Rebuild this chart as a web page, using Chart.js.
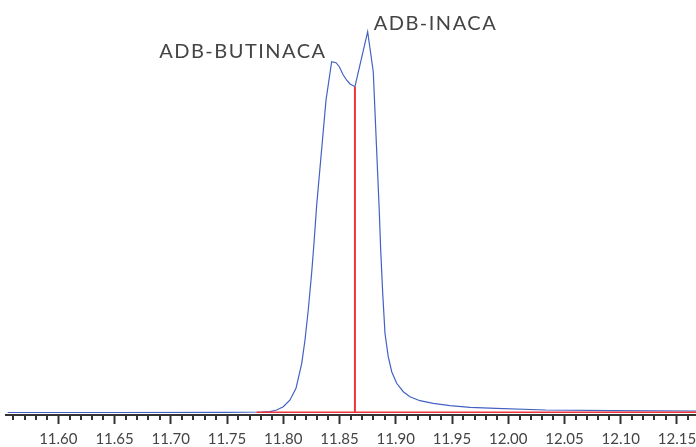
<!DOCTYPE html>
<html>
<head>
<meta charset="utf-8">
<script src="https://cdn.jsdelivr.net/npm/chart.js@4"></script>
<style>
  html, body { margin: 0; padding: 0; background: #fff; }
  #wrap { width: 696px; height: 447px; position: relative; }
</style>
</head>
<body>
<div id="wrap"><canvas id="chrom"></canvas></div>
<script>
// retention time (min) and abundance (arbitrary units)
const TIMES = [
  11.555, 11.65, 11.75, 11.7811, 11.7882, 11.7941, 11.8000, 11.8060, 11.8113,
  11.8164, 11.8193, 11.8222, 11.8252, 11.8273, 11.8297, 11.8380, 11.8430,
  11.8469, 11.8498, 11.8533, 11.8566, 11.8593, 11.8637, 11.8750, 11.8800,
  11.8853, 11.8866, 11.8884, 11.8904, 11.8933, 11.8964, 11.9008, 11.9067,
  11.9126, 11.9215, 11.9333, 11.9482, 11.9660, 11.9891, 12.0335, 12.0928,
  12.1669,
];
const ABUNDANCE = [
  0, 0, 0.2, 0.5, 0.8, 2.5, 5.8, 12.5, 24.2,
  49.2, 72.5, 102.5, 139.2, 169.2, 207.5, 312.5, 350.8,
  349.8, 345.8, 337.5, 332, 328.5, 325.8, 380.8, 340.8,
  202.5, 162.5, 119.2, 79.2, 55.8, 40.8, 29.2, 20.8,
  15.8, 11.8, 9.2, 6.8, 5.2, 4.2, 2.5, 1.8,
  1.5,
];

// integration baseline and split line
const BASELINE_TIMES = [11.7763, 12.1669];
const BASELINE_VALUES = [0.2, 0.2];
const SPLIT_TIME = 11.8637;
const SPLIT_VALUES = [0, 325.8];

const PEAK_NAMES = ["ADB-BUTINACA", "ADB-INACA"];
const PEAK_TIMES = [11.8430, 11.8750];
const PEAK_VALUES = [350.8, 380.8];

const TICK_LABELS = ["11.60", "11.65", "11.70", "11.75", "11.80", "11.85",
  "11.90", "11.95", "12.00", "12.05", "12.10", "12.15"];
const X_MIN = 11.5535;
const X_MAX = 12.1669;

const BLUE = "#4262c2";
const RED = "#f0343c";
const TEXT = "#444";

const toPoints = (xs, ys) => xs.map((x, i) => ({ x, y: ys[i] }));

const minorTicks = {
  id: "minorTicks",
  afterDraw(chart) {
    const sc = chart.scales.x;
    const ctx = chart.ctx;
    ctx.save();
    ctx.strokeStyle = "#333";
    ctx.lineWidth = 2;
    for (let k = 1156; k <= 1216; k++) {
      if (k % 5 === 0) continue;
      const px = Math.round(sc.getPixelForValue(k / 100));
      ctx.beginPath();
      ctx.moveTo(px, sc.top);
      ctx.lineTo(px, sc.top + 5);
      ctx.stroke();
    }
    ctx.restore();
  },
};

const peakLabels = {
  id: "peakLabels",
  afterDatasetsDraw(chart) {
    const { x, y } = chart.scales;
    const ctx = chart.ctx;
    ctx.save();
    ctx.font = "20px Lato";
    ctx.letterSpacing = "1.5px";
    ctx.fillStyle = TEXT;
    ctx.textBaseline = "alphabetic";
    PEAK_NAMES.forEach((name, i) => {
      const px = x.getPixelForValue(PEAK_TIMES[i]);
      const py = y.getPixelForValue(PEAK_VALUES[i]);
      if (i === 0) {
        ctx.textAlign = "right";
        ctx.fillText(name, px - 5, py - 4);
      } else {
        ctx.textAlign = "left";
        ctx.fillText(name, px + 6, py - 2);
      }
    });
    ctx.restore();
  },
};

new Chart(document.getElementById("chrom"), {
  type: "scatter",
  data: {
    datasets: [
      {
        data: [
          { x: SPLIT_TIME, y: SPLIT_VALUES[0] },
          { x: SPLIT_TIME, y: SPLIT_VALUES[1] },
        ],
        showLine: true,
        borderColor: RED,
        borderWidth: 2,
        pointRadius: 0,
      },
      {
        data: toPoints(BASELINE_TIMES, BASELINE_VALUES),
        showLine: true,
        borderColor: RED,
        borderWidth: 1.5,
        pointRadius: 0,
      },
      {
        data: toPoints(TIMES, ABUNDANCE),
        showLine: true,
        borderColor: BLUE,
        borderWidth: 1.2,
        pointRadius: 0,
        tension: 0,
      },
    ],
  },
  options: {
    responsive: true,
    maintainAspectRatio: false,
    animation: false,
    layout: { padding: { left: 6, right: 0, top: 0, bottom: -8 } },
    plugins: { legend: { display: false }, tooltip: { enabled: false } },
    scales: {
      x: {
        type: "linear",
        min: X_MIN,
        max: X_MAX,
        afterBuildTicks: (sc) => {
          sc.ticks = TICK_LABELS.map((t) => ({ value: parseFloat(t) }));
        },
        afterFit: (sc) => {
          sc.paddingLeft = 0;
          sc.paddingRight = 0;
        },
        ticks: {
          autoSkip: false,
          maxRotation: 0,
          padding: 8,
          color: TEXT,
          font: { family: "Lato", size: 15, lineHeight: 1 },
          callback: (v) => v.toFixed(2),
        },
        grid: {
          display: true,
          drawOnChartArea: false,
          drawTicks: true,
          tickLength: 9,
          tickColor: "#333",
          tickWidth: 2,
        },
        border: { display: true, color: "#333", width: 2 },
      },
      y: {
        display: false,
        min: -2.5,
        max: 412.5,
      },
    },
  },
  plugins: [minorTicks, peakLabels],
});
</script>
</body>
</html>
